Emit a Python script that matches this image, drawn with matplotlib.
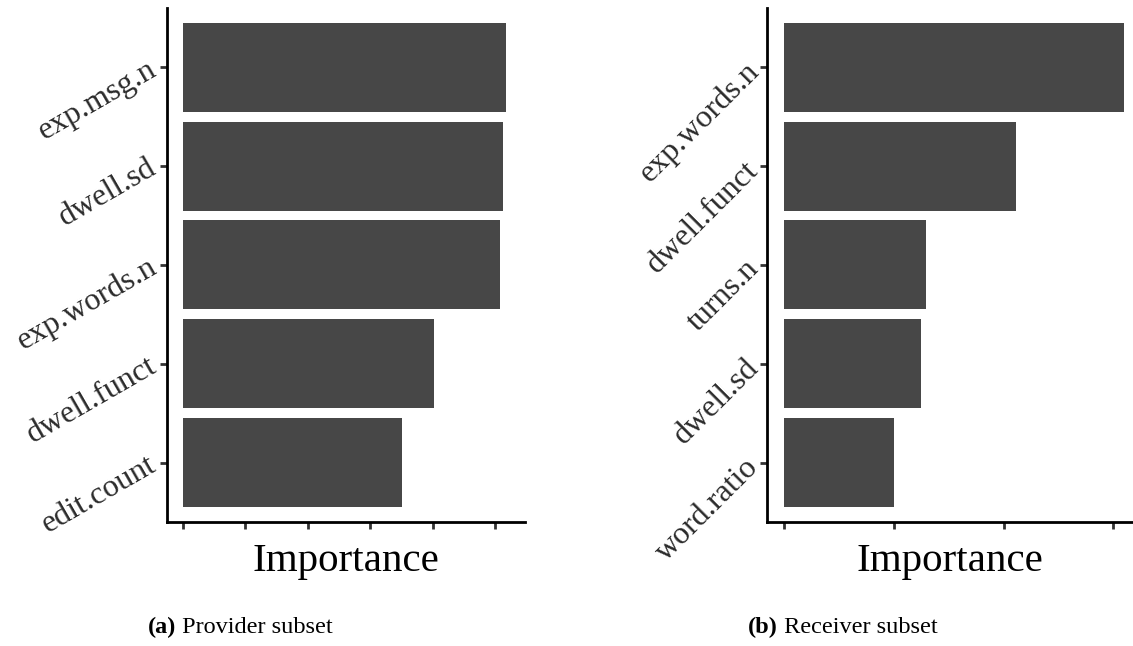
import matplotlib
matplotlib.use('agg')
import matplotlib.pyplot as plt

# provider subset (top to bottom)
prov_feats = ['exp.msg.n', 'dwell.sd', 'exp.words.n', 'dwell.funct', 'edit.count']
prov_imp = [5.18, 5.13, 5.08, 4.02, 3.51]

# receiver subset (top to bottom)
recv_feats = ['exp.words.n', 'dwell.funct', 'turns.n', 'dwell.sd', 'word.ratio']
recv_imp = [3.10, 2.11, 1.29, 1.25, 1.00]

prov_ticks = [0, 1, 2, 3, 4, 5]
recv_ticks = [0, 1, 2, 3]

plt.rcParams['font.family'] = ['Liberation Serif', 'DejaVu Serif']

bar_col = '#474747'
axis_col = '#333333'

fig = plt.figure(figsize=(11.33, 6.46), dpi=100)


def importance_panel(rect, feats, imp, ticks, xlim, rot):
    ax = fig.add_axes(rect)
    ypos = list(range(len(feats), 0, -1))
    ax.barh(ypos, imp, height=0.9, color=bar_col)
    ax.set_yticks(ypos)
    ax.set_yticklabels(feats, rotation=rot, ha='right', va='center',
                       rotation_mode='anchor', fontsize=23, color='#2b2b2b')
    ax.set_xticks(ticks)
    ax.set_xticklabels([])
    ax.set_xlim(*xlim)
    ax.set_ylim(0.4, len(feats) + 0.6)
    ax.set_xlabel('Importance', fontsize=29.5, labelpad=6)
    for s in ['top', 'right']:
        ax.spines[s].set_visible(False)
    for s in ['left', 'bottom']:
        ax.spines[s].set_linewidth(2)
        ax.spines[s].set_color('black')
    ax.tick_params(length=5, width=2, color=axis_col, pad=4)
    return ax


ax1 = importance_panel([0.1474, 0.192, 0.316, 0.7957], prov_feats, prov_imp,
                       prov_ticks, (-0.256, 5.48), 30)
ax2 = importance_panel([0.677, 0.192, 0.323, 0.7957], recv_feats, recv_imp,
                       recv_ticks, (-0.155, 3.18), 45)

# captions: bold tag followed by plain text
for x, tag, txt in [(148 / 1133, '(a)', ' Provider subset'),
                    (748 / 1133, '(b)', ' Receiver subset')]:
    t = fig.text(x, 1 - 633 / 646, tag, fontsize=17.5, fontweight='bold',
                 va='baseline', ha='left')
    fig.add_artist(matplotlib.text.Annotation(
        txt, xy=(1, 0), xycoords=t, fontsize=17.5, va='bottom', ha='left',
        annotation_clip=False))

plt.savefig('out.png', dpi=100)
